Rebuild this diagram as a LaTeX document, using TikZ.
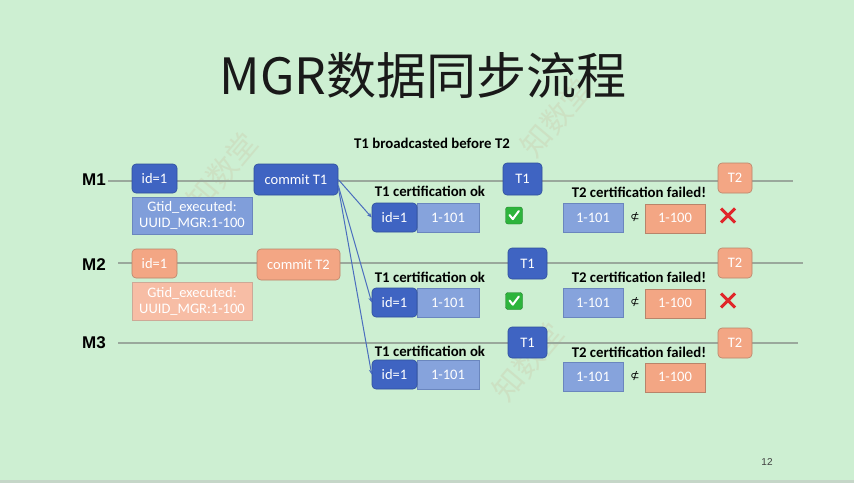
\documentclass[tikz,border=0pt]{standalone}
\usepackage{fontspec}
\setmainfont{Carlito}
\newfontfamily\cjkfont{Noto Sans CJK SC}
\newfontfamily\labelfont{Liberation Sans}
\newfontfamily\symfont{DejaVu Sans}
\usetikzlibrary{arrows.meta}

\definecolor{slidebg}{HTML}{CDEFD2}
\definecolor{darkblue}{HTML}{3F64C2}
\definecolor{darkblueedge}{HTML}{2E4E9C}
\definecolor{midblue}{HTML}{86A3DC}
\definecolor{midblueedge}{HTML}{6A86BE}
\definecolor{salmon}{HTML}{F3A684}
\definecolor{salmonedge}{HTML}{B8846A}
\definecolor{lightsalmon}{HTML}{F7BDA5}
\definecolor{timeline}{HTML}{9AA89C}
\definecolor{arrowblue}{HTML}{4A6DBE}
\definecolor{okgreen}{HTML}{2DB43C}
\definecolor{badred}{HTML}{E0262A}
\definecolor{stamp}{HTML}{C9A98A}

\tikzset{
  base/.style={inner sep=0pt, align=center, text=white, font=\fontsize{14.5}{16}\selectfont},
  txbox/.style={base, rounded corners=4pt, fill=darkblue, draw=darkblueedge, line width=0.6pt},
  rngbox/.style={base, fill=midblue, draw=midblueedge, line width=0.6pt},
  wrbox/.style={base, rounded corners=4pt, fill=salmon, draw=salmonedge, line width=0.6pt},
  oldbox/.style={base, fill=salmon, draw=salmonedge, line width=0.6pt},
  gtidblue/.style={base, fill=midblue!92!darkblue, draw=midblueedge, line width=0.6pt, font=\fontsize{14.5}{16}\selectfont},
  gtidsalmon/.style={base, fill=lightsalmon, draw=salmonedge!70, line width=0.6pt, font=\fontsize{14.5}{16}\selectfont},
  tline/.style={draw=timeline, line width=1.6pt},
  send/.style={draw=arrowblue, line width=1pt, -{Stealth[length=5pt,width=4pt]}},
  server/.style={font=\labelfont\bfseries\fontsize{17}{19}\selectfont},
  caption/.style={font=\bfseries\fontsize{14.8}{16}\selectfont},
  notsub/.style={font=\symfont\fontsize{11}{12}\selectfont},
  wmark/.style={font=\cjkfont\fontsize{30}{30}\selectfont, text=stamp, opacity=0.2, rotate=50},
}

\begin{document}
\begin{tikzpicture}[x=1pt,y=-1pt]
  % slide background
  \fill[slidebg] (0,0) rectangle (854,483);
  \fill[black!25, opacity=0.5] (0,480) rectangle (854,483);
  \useasboundingbox (0,0) rectangle (854,483);

  % faint watermark stamps
  \node[wmark] (wm1) at (222,172) {知数堂};
  \node[wmark] (wm2) at (556,118) {知数堂};
  \node[wmark] (wm3) at (528,362) {知数堂};

  % title and subtitle
  \node[font=\cjkfont\fontsize{50}{56}\selectfont, text=black!90] (title) at (423,76) {MGR数据同步流程};
  \node[caption] (sub) at (432,143) {T1 broadcasted before T2};

  % servers and their timelines
  \node[server] (m1) at (94,180) {M1};
  \node[server] (m2) at (94,265) {M2};
  \node[server] (m3) at (94,343) {M3};
  \coordinate (l1a) at (108,181);  \coordinate (l1b) at (793,181);
  \coordinate (l2a) at (118,263);  \coordinate (l2b) at (803,263);
  \coordinate (l3a) at (118,343);  \coordinate (l3b) at (798,343);
  \draw[tline] (l1a) -- (l1b);
  \draw[tline] (l2a) -- (l2b);
  \draw[tline] (l3a) -- (l3b);

  % M1: local write and commit
  \node[txbox, minimum width=45pt, minimum height=29pt] (id1a) at (154.5,178.5) {id=1};
  \node[gtidblue, minimum width=120pt, minimum height=37pt] (gtida) at (192,215.5) {Gtid\_executed:\\UUID\_MGR:1-100};
  \node[txbox, minimum width=84pt, minimum height=31pt] (commita) at (296,179.5) {commit T1};

  % M2: local write and commit
  \node[wrbox, minimum width=45pt, minimum height=29pt] (id1b) at (154.5,263.5) {id=1};
  \node[gtidsalmon, minimum width=120pt, minimum height=38pt] (gtidb) at (192,301) {Gtid\_executed:\\UUID\_MGR:1-100};
  \node[wrbox, minimum width=83pt, minimum height=31pt] (commitb) at (298.5,264.5) {commit T2};

  % T1 certification on every member
  \foreach \n/\y/\ly in {1/217.5/191, 2/302.5/277, 3/374.5/351}{
    \node[caption] (okcap\n) at (430,\ly) {T1 certification ok};
    \node[rngbox, minimum width=62pt, minimum height=29pt] (okrng\n) at (448,\y) {1-101};
    \node[txbox, minimum width=45pt, minimum height=29pt] (okid\n) at (394.5,\y) {id=1};
  }
  \draw[send] (commita.east) -- (okid1.west);
  \draw[send] ([yshift=-6pt]commita.east) -- (okid2.west);
  \draw[send] ([yshift=-8pt]commita.east) -- (okid3.west);

  % T1 arriving on the timelines
  \node[txbox, minimum width=39pt, minimum height=32pt] (t1a) at (522.5,179) {T1};
  \node[txbox, minimum width=39pt, minimum height=31pt] (t1b) at (527.5,263.5) {T1};
  \node[txbox, minimum width=39pt, minimum height=31pt] (t1c) at (527.5,342.5) {T1};

  % green check marks
  \foreach \n/\y in {1/215.5, 2/301}{
    \node[fill=okgreen, draw=okgreen!70!black, line width=0.4pt, rounded corners=2.5pt,
          minimum size=17pt, inner sep=0pt] (ok\n) at (514,\y) {};
    \draw[white, line width=2pt, line cap=round, line join=round]
      ([shift={(-4.5pt,0.5pt)}]ok\n.center) -- ([shift={(-1.2pt,-3.6pt)}]ok\n.center)
      -- ([shift={(4.8pt,4.5pt)}]ok\n.center);
  }

  % T2 arriving on the timelines
  \node[wrbox, minimum width=34pt, minimum height=30pt] (t2a) at (735,178) {T2};
  \node[wrbox, minimum width=34pt, minimum height=30pt] (t2b) at (735,263) {T2};
  \node[wrbox, minimum width=34pt, minimum height=30pt] (t2c) at (735,343) {T2};

  % T2 certification fails everywhere
  \foreach \n/\y/\ly in {1/217.5/192, 2/302.5/277, 3/376.5/352}{
    \node[caption] (failcap\n) at (639,\ly) {T2 certification failed!};
    \node[rngbox, minimum width=60pt, minimum height=29pt] (failrng\n) at (593,\y) {1-101};
    \node[notsub] (nsub\n) at (635,\y) {⊄};
    \node[oldbox, minimum width=60pt, minimum height=29pt] (failold\n) at (675,\y+0.8) {1-100};
  }

  % red crosses
  \foreach \n/\y in {1/215.5, 2/300.5}{
    \coordinate (bad\n) at (728,\y);
    \draw[badred, line width=3pt]
      ([shift={(-7pt,-7pt)}]bad\n) -- ([shift={(7pt,7pt)}]bad\n)
      ([shift={(-7pt,7pt)}]bad\n) -- ([shift={(7pt,-7pt)}]bad\n);
  }

  % page number
  \node[font=\labelfont\fontsize{10}{12}\selectfont, text=black!75] (page) at (767,462) {12};
\end{tikzpicture}
\end{document}
